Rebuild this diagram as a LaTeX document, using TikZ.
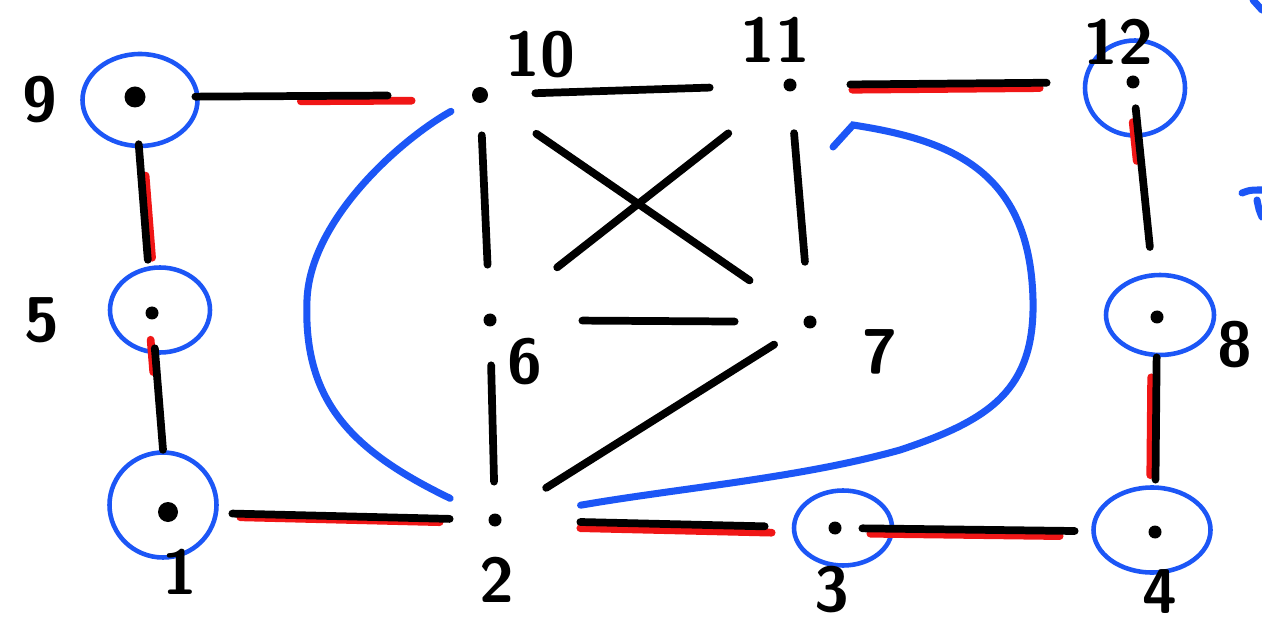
\documentclass[tikz,border=0pt]{standalone}
\usepackage{tikz}
\usetikzlibrary{shapes.geometric}
\usepackage{xcolor}
\definecolor{penblue}{RGB}{28,86,246}
\definecolor{penred}{RGB}{240,22,22}

\begin{document}
\begin{tikzpicture}[
    vtx/.style={circle, fill=black, inner sep=0pt, minimum size=#1},
    vtx/.default=2.6mm,
    ring/.style={draw=penblue, ellipse, line width=2.6pt, inner sep=0pt},
    edge/.style={line width=4.4pt, line cap=round},
    redge/.style={line width=4.4pt, line cap=round, draw=penred},
    gap/.style 2 args={shorten <=#1, shorten >=#2},
    bluecurve/.style={line width=4pt, line cap=round, draw=penblue},
    num/.style={font=\fontsize{36}{38}\selectfont\sffamily\bfseries}
]
\useasboundingbox[fill=white] (0,0) rectangle (25.24,-12.74);

\node[vtx=4.2mm] (n9) at (2.70,-1.94) {};
\node[vtx] (n5) at (3.04,-6.26) {};
\node[vtx=4mm] (n1) at (3.36,-10.24) {};
\node[vtx=3.2mm] (n10) at (9.60,-1.90) {};
\node[vtx] (n11) at (15.80,-1.70) {};
\node[vtx] (n12) at (22.66,-1.64) {};
\node[vtx] (n6) at (9.80,-6.40) {};
\node[vtx] (n7) at (16.20,-6.44) {};
\node[vtx] (n8) at (23.14,-6.34) {};
\node[vtx] (n2) at (9.90,-10.40) {};
\node[vtx] (n3) at (16.70,-10.56) {};
\node[vtx] (n4) at (23.10,-10.64) {};

\node[ring, minimum width=2.30cm, minimum height=1.84cm] (r9) at (2.80,-2.00) {};
\node[ring, minimum width=2.00cm, minimum height=1.70cm] (r5) at (3.20,-6.20) {};
\node[ring, minimum width=2.14cm, minimum height=2.10cm] (r1) at (3.26,-10.10) {};
\node[ring, minimum width=2.00cm, minimum height=1.90cm] (r12) at (22.70,-1.76) {};
\node[ring, minimum width=2.16cm, minimum height=1.60cm] (r8) at (23.20,-6.30) {};
\node[ring, minimum width=1.96cm, minimum height=1.50cm] (r3) at (16.86,-10.56) {};
\node[ring, minimum width=2.34cm, minimum height=1.70cm] (r4) at (23.04,-10.60) {};

\node[num] (l9) at (0.80,-2.00) {9};
\node[num] (l10) at (10.80,-1.10) {10};
\node[num] (l11) at (15.50,-0.80) {11};
\node[num] (l12) at (22.36,-0.84) {12};
\node[num] (l5) at (0.84,-6.40) {5};
\node[num] (l6) at (10.50,-7.24) {6};
\node[num] (l7) at (17.60,-7.04) {7};
\node[num] (l8) at (24.70,-6.90) {8};
\node[num] (l1) at (3.60,-11.44) {1};
\node[num] (l2) at (9.94,-11.60) {2};
\node[num] (l3) at (16.64,-11.80) {3};
\node[num] (l4) at (23.20,-11.84) {4};

\draw[redge, gap={3.1cm}{1.2cm}, transform canvas={yshift=-3pt}] (n9) -- (n10);
\draw[redge, gap={1.36cm}{0.97cm}, transform canvas={xshift=2.5pt}] (n9) -- (n5);
\draw[redge, gap={0.4cm}{2.6cm}, transform canvas={xshift=-2pt}] (n5) -- (n1);
\draw[redge, gap={1.24cm}{0.97cm}, transform canvas={yshift=-2pt}] (n1) -- (n2);
\draw[redge, gap={1.57cm}{1.13cm}, transform canvas={yshift=-3.5pt}] (n2) -- (n3);
\draw[redge, gap={0.57cm}{1.77cm}, transform canvas={yshift=-3pt}] (n3) -- (n4);
\draw[redge, gap={1.11cm}{1.73cm}, transform canvas={yshift=-3pt}] (n11) -- (n12);
\draw[redge, gap={0.67cm}{3.0cm}, transform canvas={xshift=-2.5pt}] (n12) -- (n8);
\draw[redge, gap={1.07cm}{1.0cm}, transform canvas={xshift=-3pt}] (n8) -- (n4);

\draw[edge, gap={0.99cm}{1.68cm}] (n9) -- (n10);
\draw[edge, gap={0.73cm}{0.93cm}] (n9) -- (n5);
\draw[edge, gap={0.57cm}{1.04cm}] (n5) -- (n1);
\draw[edge, gap={1.08cm}{0.77cm}] (n1) -- (n2);
\draw[edge, gap={0.94cm}{1.47cm}] (n10) -- (n11);
\draw[edge, gap={0.64cm}{0.97cm}] (n10) -- (n6);
\draw[edge, gap={0.83cm}{1.07cm}] (n11) -- (n7);
\draw[edge, gap={1.2cm}{1.33cm}] (n10) -- (n7);
\draw[edge, gap={1.43cm}{1.57cm}] (n11) -- (n6);
\draw[edge, gap={1.71cm}{1.37cm}] (n6) -- (n7);
\draw[edge, gap={0.77cm}{0.63cm}] (n6) -- (n2);
\draw[edge, gap={1.07cm}{0.71cm}] (n2) -- (n7);
\draw[edge, gap={1.57cm}{1.27cm}] (n2) -- (n3);
\draw[edge, gap={0.41cm}{1.47cm}] (n3) -- (n4);
\draw[edge, gap={1.07cm}{1.59cm}] (n11) -- (n12);
\draw[edge, gap={0.39cm}{1.27cm}] (n12) -- (n8);
\draw[edge, gap={0.67cm}{0.91cm}] (n8) -- (n4);

\draw[bluecurve, gap={0.5cm}{0.86cm}] (n10) .. controls (8.0,-2.8) and (6.2,-4.4) .. (6.14,-6.0)
    .. controls (6.06,-8.0) and (7.0,-9.0) .. (n2);
\coordinate (h11) at (16.66,-2.94);
\draw[bluecurve, shorten >=1.6cm] (h11) -- (17.06,-2.5) .. controls (19.0,-2.8) and (20.6,-3.4) .. (20.66,-6.0)
    .. controls (20.7,-7.8) and (19.8,-8.4) .. (18.0,-9.0)
    .. controls (16.0,-9.56) and (13.6,-9.76) .. (n2);
\draw[bluecurve] (25.06,0) -- (25.24,-0.2);
\draw[bluecurve] (24.84,-3.86) .. controls (25.0,-3.8) .. (25.24,-3.8);
\draw[bluecurve] (25.14,-4.0) .. controls (25.18,-4.2) .. (25.24,-4.34);
\end{tikzpicture}
\end{document}
